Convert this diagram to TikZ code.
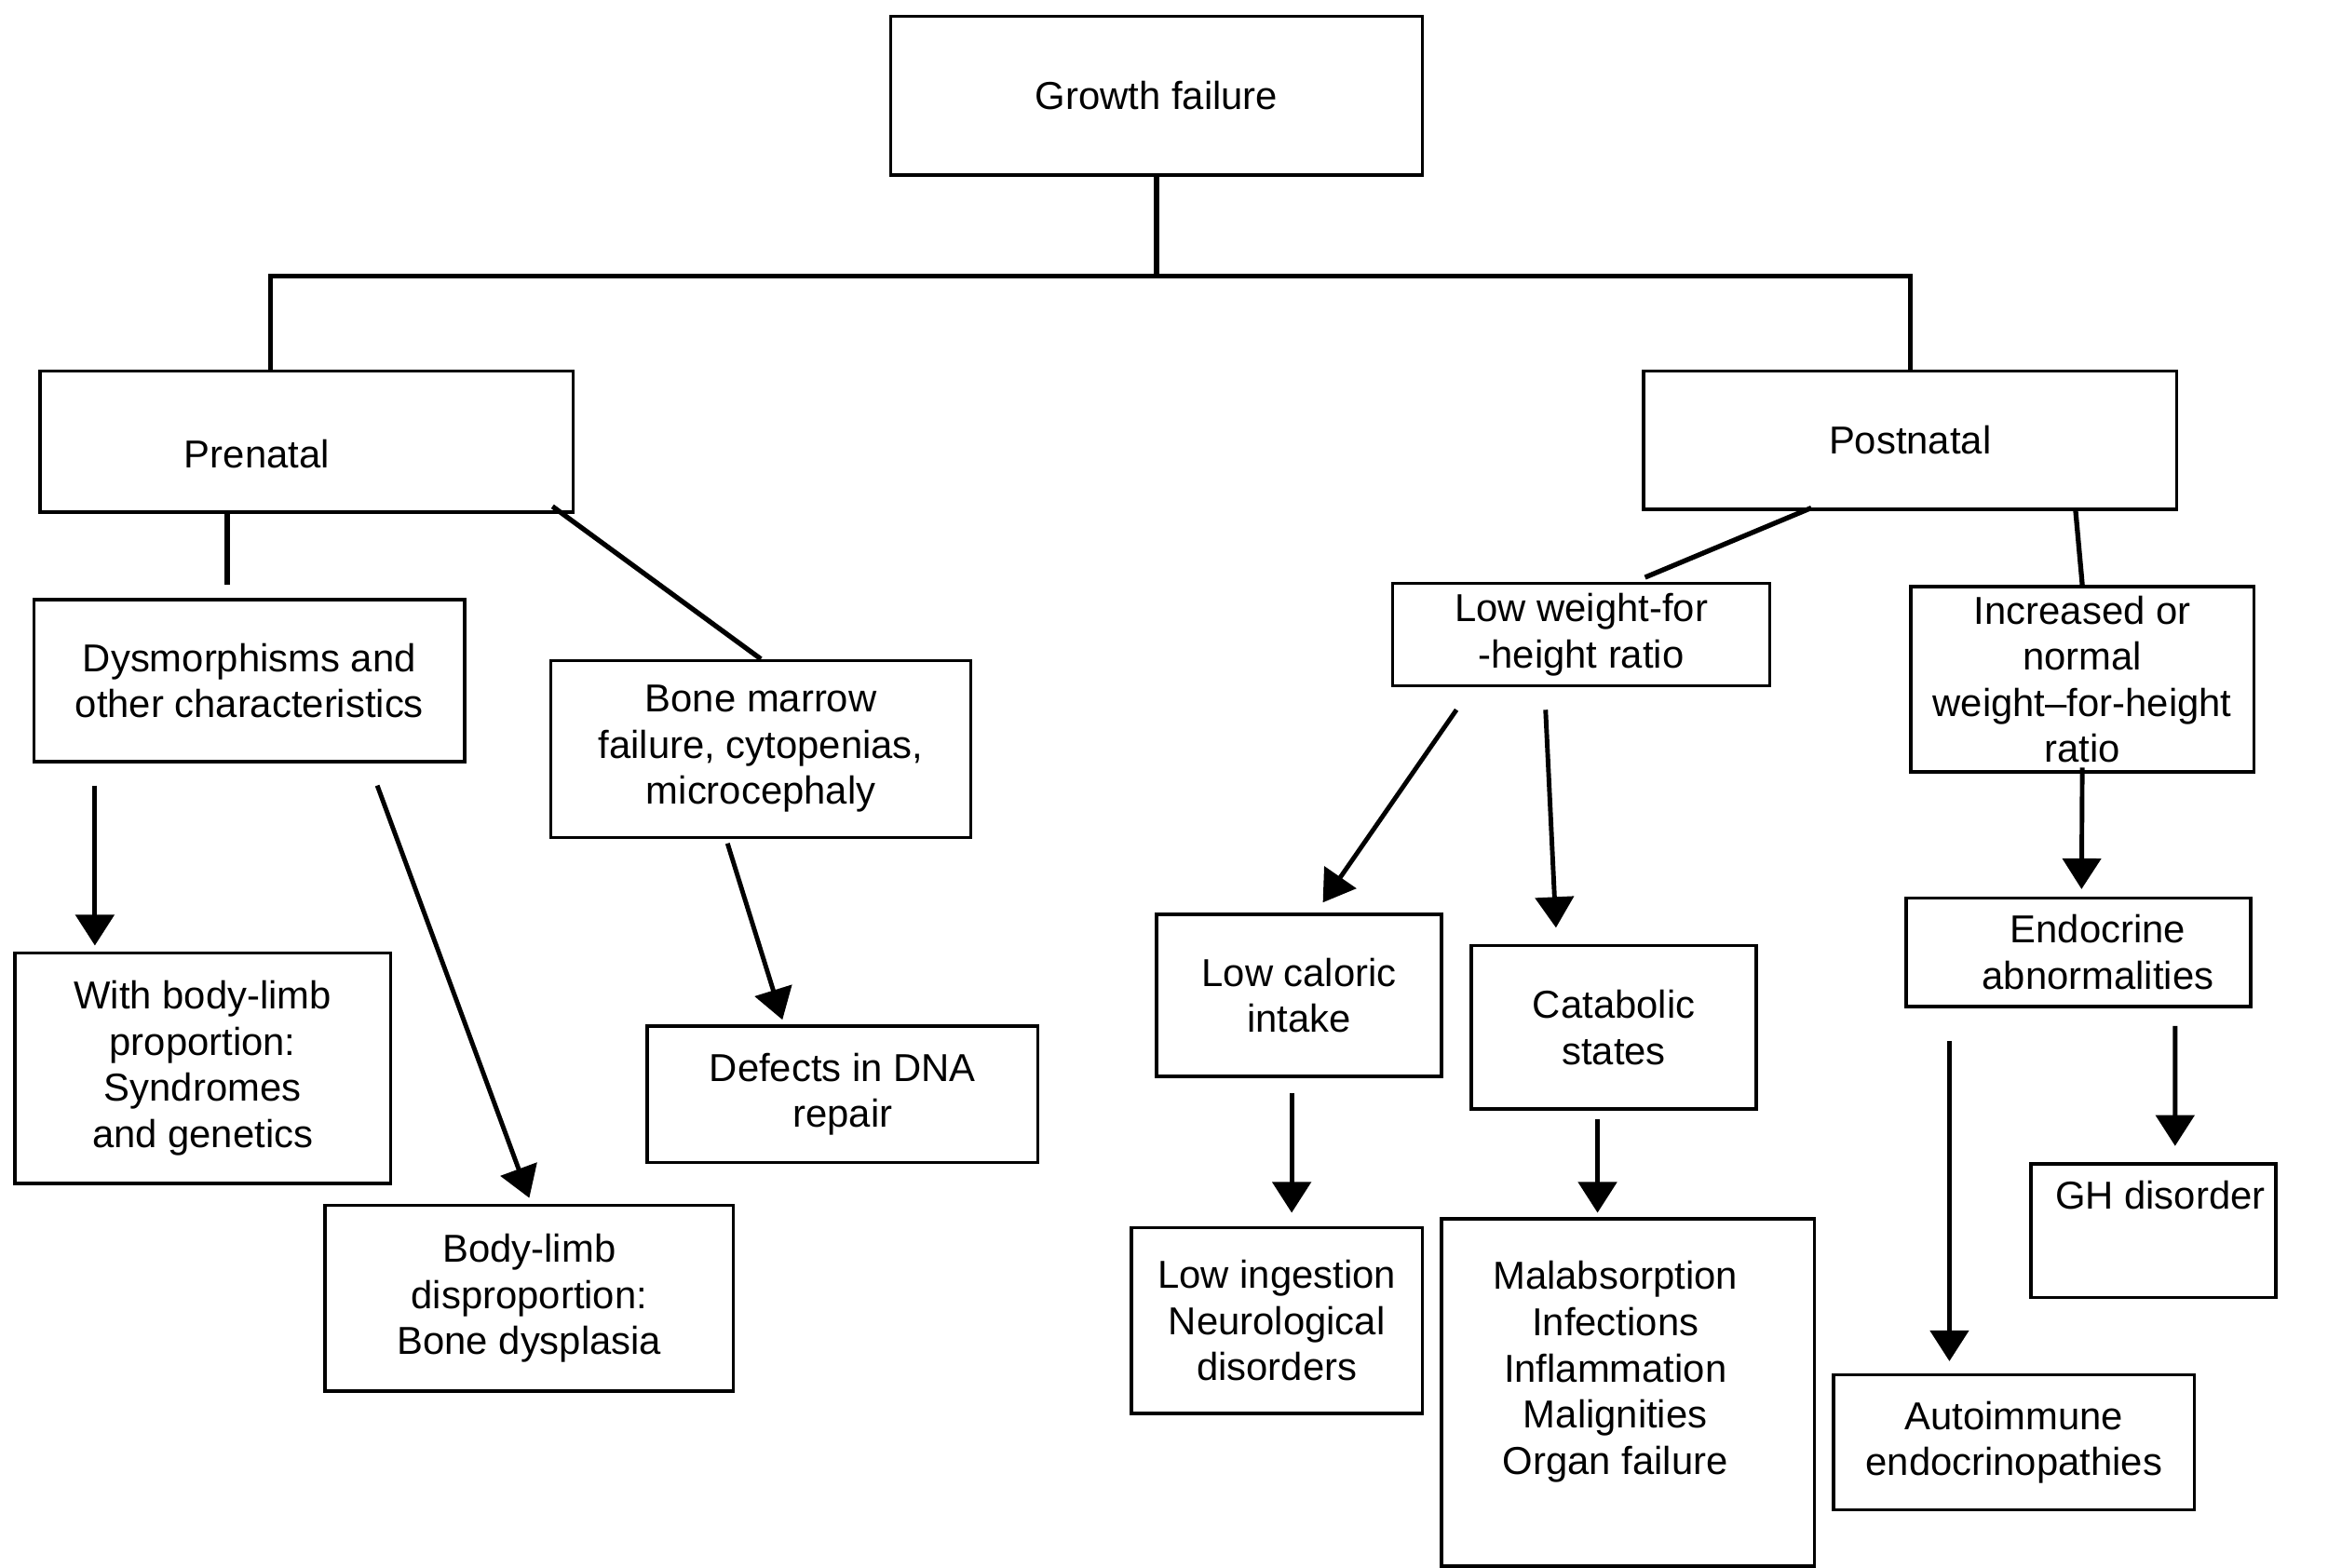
\documentclass[tikz,border=0pt]{standalone}
\usepackage{fontspec}
\setmainfont{Liberation Sans}
\usetikzlibrary{arrows.meta}
\usetikzlibrary{calc}
\newcommand{\pu}{0.015944cm}
\tikzset{
	box/.style={draw, line width=1pt, align=center, inner sep=0pt, font=\fontsize{11.9}{14.1}\selectfont},
	link/.style={line width=1.5pt},
	arr/.style={line width=1.4pt, -{Triangle[length=0.33cm, width=0.41cm]}}
}

\begin{document}
\begin{tikzpicture}[x=\pu, y=-\pu]
	\useasboundingbox (0,0) rectangle (1568,1056);
	% top
	\node[box, minimum width=358*\pu, minimum height=107*\pu] (gf) at (779,64.5) {Growth failure};
	\node[box, minimum width=359*\pu, minimum height=95*\pu, label={[font=\fontsize{11.9}{14.1}\selectfont, xshift=-33.5*\pu, yshift=-8*\pu]center:Prenatal}] (pre) at (206.5,297.5) {};
	\node[box, minimum width=359*\pu, minimum height=93*\pu] (post) at (1286.5,296.5) {Postnatal};
	% prenatal side
	\node[box, minimum width=290*\pu, minimum height=109*\pu] (dys) at (168,458.5) {Dysmorphisms and\\other characteristics};
	\node[box, minimum width=283*\pu, minimum height=119*\pu] (bm) at (512.5,504.5) {Bone marrow\\failure, cytopenias,\\microcephaly};
	\node[box, minimum width=253*\pu, minimum height=155*\pu] (wbl) at (136.5,719.5) {With body-limb\\proportion:\\Syndromes\\and genetics};
	\node[box, minimum width=275*\pu, minimum height=125*\pu] (bld) at (356.5,874.5) {Body-limb\\disproportion:\\Bone dysplasia};
	\node[box, minimum width=263*\pu, minimum height=92*\pu] (dna) at (567.5,737) {Defects in DNA\\repair};
	% postnatal side
	\node[box, minimum width=254*\pu, minimum height=69*\pu] (lw) at (1065,427.5) {Low weight-for\\-height ratio};
	\node[box, minimum width=231*\pu, minimum height=125*\pu] (inc) at (1402.5,457.5) {Increased or\\normal\\weight–for-height\\ratio};
	\node[box, minimum width=192*\pu, minimum height=109*\pu] (lci) at (875,670.5) {Low caloric\\intake};
	\node[box, minimum width=192*\pu, minimum height=110*\pu] (cat) at (1087,692) {Catabolic\\states};
	\node[box, minimum width=232*\pu, minimum height=73*\pu, label={[font=\fontsize{11.9}{14.1}\selectfont, align=center, xshift=13*\pu]center:Endocrine\\abnormalities}] (endo) at (1400,641.5) {};
	\node[box, minimum width=196*\pu, minimum height=125*\pu] (li) at (860,889.5) {Low ingestion\\Neurological\\disorders};
	\node[box, minimum width=251*\pu, minimum height=234*\pu, label={[font=\fontsize{11.9}{14.1}\selectfont, align=center, xshift=-8.5*\pu, yshift=14*\pu]center:Malabsorption\\Infections\\Inflammation\\Malignities\\Organ failure}] (mal) at (1096.5,938) {};
	\node[box, minimum width=165*\pu, minimum height=90*\pu, label={[font=\fontsize{11.9}{14.1}\selectfont, xshift=4.5*\pu, yshift=24*\pu]center:GH disorder}] (gh) at (1450.5,829) {};
	\node[box, minimum width=243*\pu, minimum height=91*\pu] (auto) at (1356.5,971.5) {Autoimmune\\endocrinopathies};
	% tree lines
	\draw[link] (gf.south) -- ++(0,67) coordinate (fork);
	\draw[link] ($(pre.north)+(-24.5,0)$) |- (fork) -| (post.north);
	\draw[link] ($(pre.south)+(-53.5,0)$) -- ($(dys.north)+(-15,-9)$);
	\draw[link] ($(pre.south east)+(-15,-5)$) -- (bm.north);
	\draw[link] ($(post.south)+(-66.5,-2)$) -- ($(lw.north)+(43,-3)$);
	\draw[link] ($(post.south)+(111.5,0)$) -- (inc.north);
	% arrows
	\draw[arr] ($(dys.south west)+(42,15)$) -- ($(wbl.north west)+(55,-4)$);
	\draw[arr] ($(dys.south east)+(-60,15)$) -- ($(bld.north)+(0,-4)$);
	\draw[arr] ($(bm.south)+(-22.5,3)$) -- ($(dna.north)+(-40.5,-3)$);
	\draw[arr] ($(lw.south)+(-84,15)$) -- ($(lci.north)+(16,-7)$);
	\draw[arr] ($(lw.south)+(-24,15)$) -- ($(cat.north)+(-39,-11)$);
	\draw[arr] ($(inc.south)+(0,-4)$) -- ($(endo.north)+(2,-5)$);
	\draw[arr] ($(lci.south)+(-5,10)$) -- ($(li.north)+(10,-9)$);
	\draw[arr] ($(cat.south)+(-11,6)$) -- ($(mal.north)+(-20.5,-3)$);
	\draw[arr] ($(endo.south)+(65,12)$) -- ($(gh.north)+(14.5,-11)$);
	\draw[arr] ($(endo.south)+(-87,22)$) -- ($(auto.north)+(-43.5,-8)$);
\end{tikzpicture}
\end{document}
